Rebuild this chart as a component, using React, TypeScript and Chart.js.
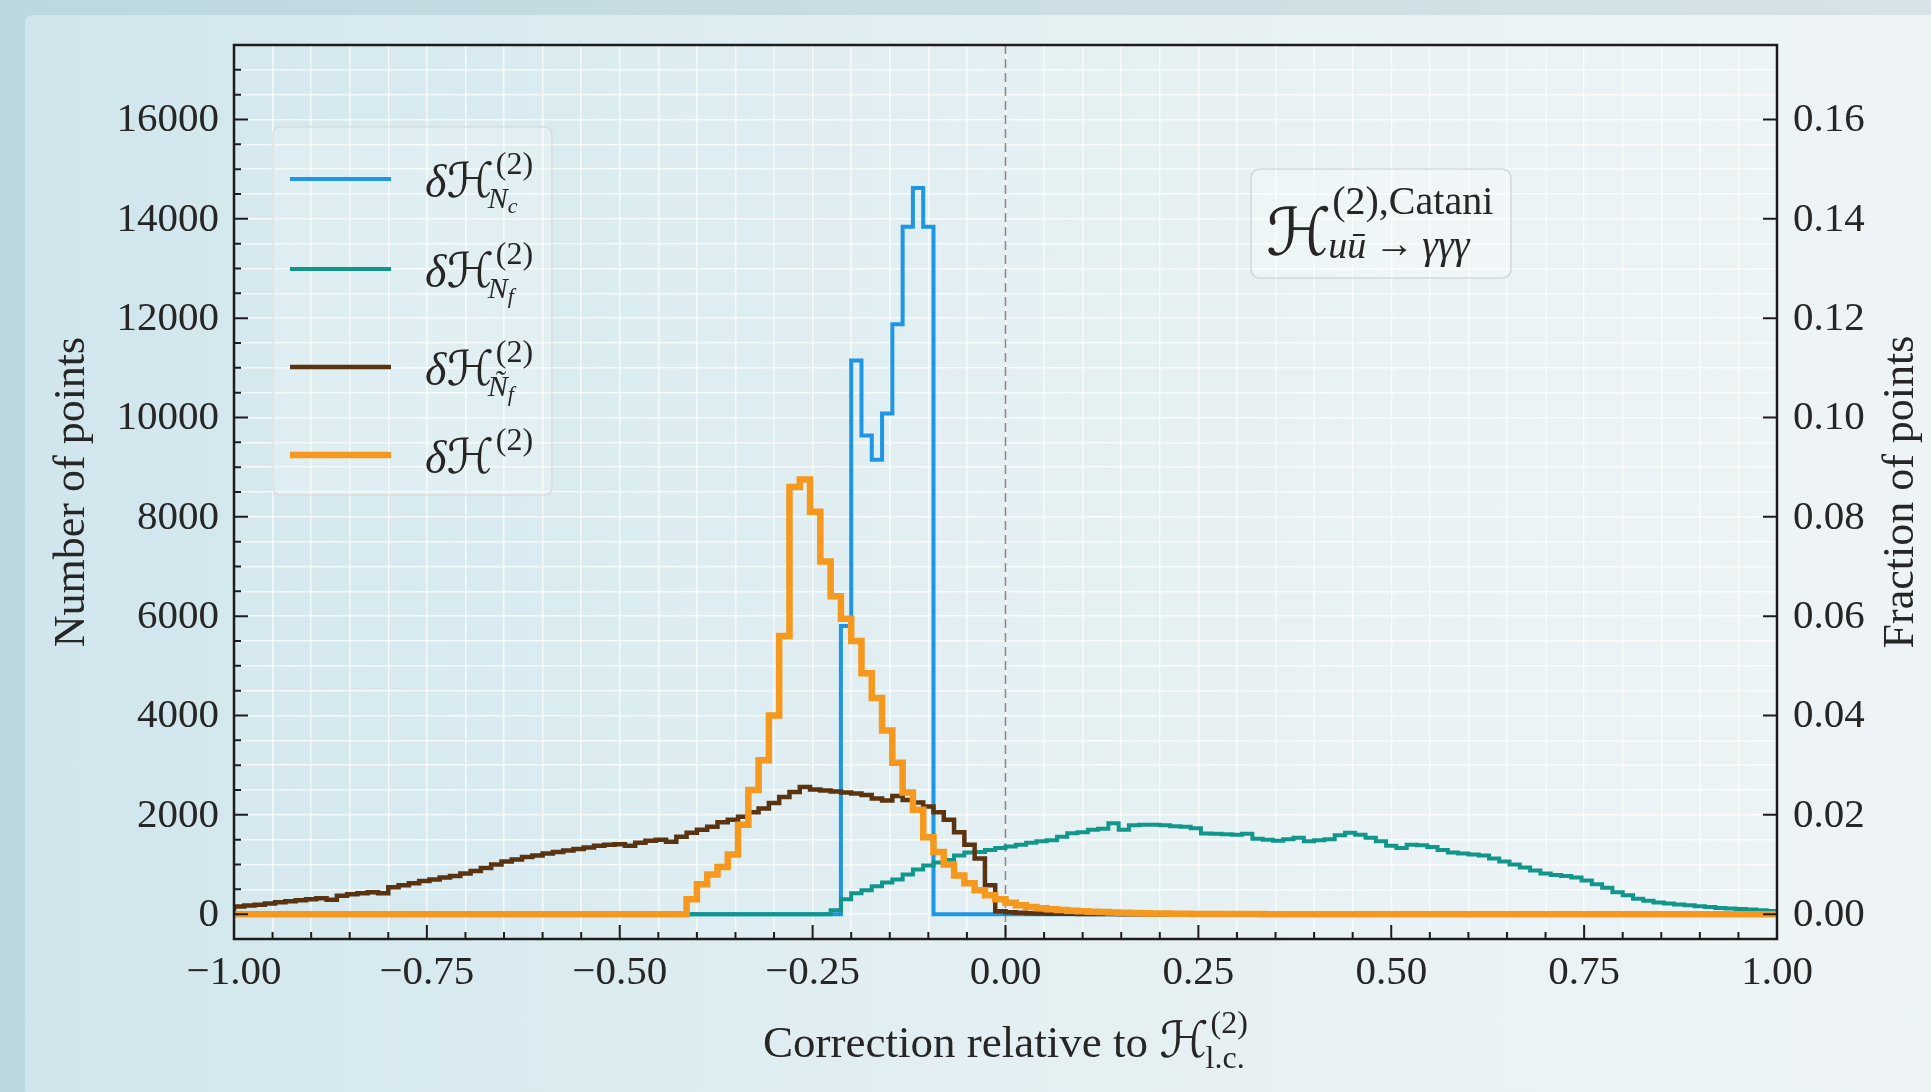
import React, { useEffect, useRef } from "react";
import { Chart, registerables } from "chart.js";

Chart.register(...registerables);

// ---------------- Data ----------------
// Histogram binning: 150 equal bins on [-1, 1]
const BIN_COUNT = 150;
const X_MIN = -1;
const X_MAX = 1;
const TOTAL_POINTS = 100000;

// δH^(2)_{N_c}  (counts per bin, first bin index = ncStart)
const ncStart = 59;
const ncCounts = [5800, 11150, 9640, 9150, 10080, 11880, 13840, 14620, 13840];

// δH^(2)_{N_f}
const nfStart = 58;
const nfCounts = [
  80, 300, 420, 480, 560, 640, 700, 800, 900, 980,
  1040, 1090, 1180, 1240, 1250, 1290, 1330, 1360, 1400, 1440,
  1470, 1490, 1560, 1630, 1650, 1700, 1720, 1830,
  1700, 1790, 1800, 1800, 1790, 1770, 1760, 1730, 1625, 1620, 1610, 1600, 1620,
  1520, 1500, 1480, 1510, 1540, 1470, 1490, 1510, 1590, 1640,
  1600, 1540, 1470, 1380, 1330, 1400, 1390, 1350, 1290, 1240,
  1220, 1200, 1180, 1120, 1060, 1000, 940, 880, 820, 790,
  770, 740, 680, 600, 530, 440, 380, 310, 270, 235,
  215, 195, 180, 160, 145, 125, 115, 105, 95, 80, 65,
];

// δH^(2)_{Ñ_f}
const nftStart = 0;
const nftCounts = [
  155, 175, 190, 215, 240, 260, 280, 300, 320, 290,
  370, 400, 420, 440, 420, 540, 580, 620, 670, 700,
  740, 770, 820, 870, 930, 1000, 1060, 1100, 1150, 1180,
  1220, 1250, 1280, 1310, 1340, 1380, 1400, 1410, 1380, 1440,
  1480, 1500, 1460, 1560, 1640, 1700, 1760,
  1850, 1900, 1960, 2050, 2130, 2240, 2360, 2460, 2560, 2510,
  2490, 2470, 2450, 2430, 2400, 2330, 2290, 2380, 2300, 2250,
  2170, 2050, 1900, 1650, 1400, 1120, 580,
  60, 40, 30, 20, 15, 10, 8, 6, 4, 3, 2, 1,
];

// δH^(2)
const totStart = 44;
const totCounts = [
  300, 600, 800, 950, 1200, 1800, 2500, 3100, 4000, 5600,
  8600, 8750, 8100, 7100, 6400, 5950, 5500, 4850, 4350, 3700,
  3050, 2450, 2100,
  1550, 1250, 1000, 780, 620, 480, 380, 300, 230, 180,
  145, 120, 100, 85, 70, 60, 50, 42, 35, 28, 22, 18, 14, 11, 8, 6, 5, 4, 3, 2, 2, 1, 1,
];

// Axis ticks / limits
const xMajorTicks = [-1, -0.75, -0.5, -0.25, 0, 0.25, 0.5, 0.75, 1];
const yMajorTicks = [0, 2000, 4000, 6000, 8000, 10000, 12000, 14000, 16000];
const fracTicks = [0, 0.02, 0.04, 0.06, 0.08, 0.1, 0.12, 0.14, 0.16];
const yLimits = [-500, 17500];
const refLineX = 0;

// Series styles
const seriesColors = ["#1e96e3", "#10968a", "#5a3311", "#f5981e"];
const seriesWidths = [4, 4, 4.5, 6.5];

// ---------------- Helpers ----------------
const SERIF = '"Liberation Serif", "DejaVu Serif", "DejaVu Sans", serif';
const TEXT_COLOR = "#262626";
const TICK_FONT_SIZE = 41;

function expand(start: number, counts: number[]): number[] {
  const arr = new Array(BIN_COUNT).fill(0);
  counts.forEach((c, i) => {
    arr[start + i] = c;
  });
  return arr;
}

const binEdges: number[] = Array.from(
  { length: BIN_COUNT + 1 },
  (_, i) => X_MIN + (i * (X_MAX - X_MIN)) / BIN_COUNT
);

// outline of a step histogram: each count spans [edge_i, edge_i+1]
function stepPoints(counts: number[]) {
  const pts: { x: number; y: number }[] = [{ x: binEdges[0], y: 0 }];
  counts.forEach((c, i) => pts.push({ x: binEdges[i], y: c }));
  pts.push({ x: binEdges[BIN_COUNT], y: 0 });
  return pts;
}

const near = (list: number[], v: number) => list.some((t) => Math.abs(t - v) < 1e-6);
const fmtSigned = (v: number) => (v < -1e-9 ? "\u2212" : "") + Math.abs(v).toFixed(2);

type Run = { t: string; size: number; italic?: boolean; dy?: number };
function setFont(ctx: CanvasRenderingContext2D, r: Run) {
  ctx.font = `${r.italic ? "italic " : ""}${r.size}px ${SERIF}`;
}
function runsWidth(ctx: CanvasRenderingContext2D, runs: Run[]) {
  let w = 0;
  for (const r of runs) {
    setFont(ctx, r);
    w += ctx.measureText(r.t).width;
  }
  return w;
}
function drawRuns(ctx: CanvasRenderingContext2D, x: number, y: number, runs: Run[]) {
  for (const r of runs) {
    setFont(ctx, r);
    ctx.fillText(r.t, x, y + (r.dy || 0));
    x += ctx.measureText(r.t).width;
  }
  return x;
}
type Scripted = {
  base: Run[];
  sup?: Run[];
  sub?: Run[];
  supDy: number;
  subDy: number;
  supDx?: number;
  subDx?: number;
};
function scriptedWidth(ctx: CanvasRenderingContext2D, s: Scripted) {
  return (
    runsWidth(ctx, s.base) +
    Math.max(
      s.sup ? runsWidth(ctx, s.sup) + (s.supDx || 0) : 0,
      s.sub ? runsWidth(ctx, s.sub) + (s.subDx || 0) : 0
    )
  );
}
function drawScripted(ctx: CanvasRenderingContext2D, x: number, y: number, s: Scripted) {
  const xe = drawRuns(ctx, x, y, s.base);
  let w = 0;
  if (s.sup) w = Math.max(w, drawRuns(ctx, xe + (s.supDx || 0), y + s.supDy, s.sup) - xe);
  if (s.sub) w = Math.max(w, drawRuns(ctx, xe + (s.subDx || 0), y + s.subDy, s.sub) - xe);
  return xe + w;
}

const deltaH: Run[] = [
  { t: "\u03b4", size: 46, italic: true },
  { t: "\u210b", size: 48 },
];
const sup2: Run[] = [{ t: "(2)", size: 32 }];
function subNf(first: string, second: string): Run[] {
  return [
    { t: first, size: 30, italic: true },
    { t: second, size: 22, italic: true, dy: 5 },
  ];
}
const legendEntries: Scripted[] = [
  { base: deltaH, sup: sup2, sub: subNf("N", "c"), supDy: -23, subDy: 11, supDx: 2, subDx: -6 },
  { base: deltaH, sup: sup2, sub: subNf("N", "f"), supDy: -23, subDy: 11, supDx: 2, subDx: -6 },
  { base: deltaH, sup: sup2, sub: subNf("\u00d1", "f"), supDy: -23, subDy: 11, supDx: 2, subDx: -6 },
  { base: deltaH, sup: sup2, supDy: -23, subDy: 0, supDx: 2 },
];

function roundRect(ctx: CanvasRenderingContext2D, x: number, y: number, w: number, h: number, r: number) {
  ctx.beginPath();
  ctx.moveTo(x + r, y);
  ctx.lineTo(x + w - r, y);
  ctx.quadraticCurveTo(x + w, y, x + w, y + r);
  ctx.lineTo(x + w, y + h - r);
  ctx.quadraticCurveTo(x + w, y + h, x + w - r, y + h);
  ctx.lineTo(x + r, y + h);
  ctx.quadraticCurveTo(x, y + h, x, y + h - r);
  ctx.lineTo(x, y + r);
  ctx.quadraticCurveTo(x, y, x + r, y);
  ctx.closePath();
}

const decorPlugin = {
  id: "decor",
  beforeDatasetsDraw(chart: any) {
    const { ctx, chartArea: a } = chart;
    const px = chart.scales.x.getPixelForValue(refLineX);
    ctx.save();
    ctx.strokeStyle = "#8a8a8a";
    ctx.lineWidth = 1.6;
    ctx.setLineDash([9, 5]);
    ctx.beginPath();
    ctx.moveTo(px, a.top);
    ctx.lineTo(px, a.bottom);
    ctx.stroke();
    ctx.restore();
  },
  afterDraw(chart: any) {
    const { ctx, chartArea: a, scales } = chart;
    ctx.save();

    // inward ticks
    ctx.strokeStyle = "#1c1c1c";
    ctx.lineWidth = 2;
    ctx.beginPath();
    for (const t of scales.x.ticks) {
      const p = scales.x.getPixelForValue(t.value);
      const len = near(xMajorTicks, t.value) ? 14 : 7;
      ctx.moveTo(p, a.bottom);
      ctx.lineTo(p, a.bottom - len);
    }
    for (const t of scales.y.ticks) {
      const p = scales.y.getPixelForValue(t.value);
      const len = near(yMajorTicks, t.value) ? 14 : 7;
      ctx.moveTo(a.left, p);
      ctx.lineTo(a.left + len, p);
    }
    for (const v of fracTicks) {
      const p = scales.y1.getPixelForValue(v);
      ctx.moveTo(a.right, p);
      ctx.lineTo(a.right - 14, p);
    }
    ctx.stroke();

    // frame
    ctx.lineWidth = 2.5;
    ctx.strokeRect(a.left, a.top, a.right - a.left, a.bottom - a.top);

    // tick labels of both vertical axes
    ctx.fillStyle = TEXT_COLOR;
    ctx.font = `${TICK_FONT_SIZE}px ${SERIF}`;
    ctx.textBaseline = "middle";
    ctx.textAlign = "right";
    for (const v of yMajorTicks) {
      ctx.fillText(String(v), a.left - 15, scales.y.getPixelForValue(v) + 1);
    }
    ctx.textAlign = "left";
    for (const v of fracTicks) {
      ctx.fillText(v.toFixed(2), a.right + 16, scales.y1.getPixelForValue(v) + 1);
    }

    // legend
    const lx = a.left + 39;
    const ly = a.top + 82;
    roundRect(ctx, lx, ly, 279, 368, 8);
    ctx.fillStyle = "rgba(255,255,255,0.22)";
    ctx.fill();
    ctx.strokeStyle = "rgba(215,220,222,0.9)";
    ctx.lineWidth = 1.5;
    ctx.stroke();
    const rows = [52, 142, 240, 328];
    ctx.textBaseline = "alphabetic";
    ctx.textAlign = "left";
    legendEntries.forEach((e, i) => {
      const yy = ly + rows[i];
      ctx.strokeStyle = seriesColors[i];
      ctx.lineWidth = seriesWidths[i];
      ctx.beginPath();
      ctx.moveTo(lx + 17, yy);
      ctx.lineTo(lx + 118, yy);
      ctx.stroke();
      ctx.fillStyle = TEXT_COLOR;
      drawScripted(ctx, lx + 152, yy + 18, e);
    });

    // annotation box
    const bx = a.left + 1017;
    const by = a.top + 124;
    roundRect(ctx, bx, by, 260, 109, 10);
    ctx.fillStyle = "rgba(255,255,255,0.28)";
    ctx.fill();
    ctx.strokeStyle = "rgba(208,214,218,0.95)";
    ctx.lineWidth = 1.5;
    ctx.stroke();
    ctx.fillStyle = TEXT_COLOR;
    drawScripted(ctx, bx + 15, by + 86, {
      base: [{ t: "\u210b", size: 66 }],
      sup: [{ t: "(2),Catani", size: 40 }],
      sub: [
        { t: "u\u016b", size: 38, italic: true },
        { t: "\u2009\u2192\u2009", size: 40, dy: -1 },
        { t: "\u03b3\u03b3\u03b3", size: 40, italic: true },
      ],
      supDy: -41,
      subDy: 3,
      supDx: 1,
      subDx: -3,
    });

    // x-axis title
    const xt: Run[] = [{ t: "Correction relative to ", size: 45 }];
    const xs: Scripted = {
      base: [{ t: "\u210b", size: 50 }],
      sup: [{ t: "(2)", size: 32 }],
      sub: [{ t: "l.c.", size: 32 }],
      supDy: -24,
      subDy: 11,
      supDx: 2,
      subDx: -3,
    };
    const totalW = runsWidth(ctx, xt) + scriptedWidth(ctx, xs);
    let tx = (a.left + a.right) / 2 - totalW / 2;
    tx = drawRuns(ctx, tx, 1057, xt);
    drawScripted(ctx, tx, 1057, xs);

    // y-axis titles (both read bottom-to-top)
    ctx.font = `44px ${SERIF}`;
    ctx.textAlign = "center";
    ctx.textBaseline = "middle";
    const midY = (a.top + a.bottom) / 2;
    ctx.save();
    ctx.translate(72, midY);
    ctx.rotate(-Math.PI / 2);
    ctx.fillText("Number of points", 0, 0);
    ctx.restore();
    ctx.save();
    ctx.translate(1901, midY);
    ctx.rotate(-Math.PI / 2);
    ctx.fillText("Fraction of points", 0, 0);
    ctx.restore();

    ctx.restore();
  },
};

const seriesLabels = [
  "\u03b4\u210b(2) N_c",
  "\u03b4\u210b(2) N_f",
  "\u03b4\u210b(2) \u00d1_f",
  "\u03b4\u210b(2)",
];

export default function App() {
  const canvasRef = useRef<HTMLCanvasElement | null>(null);

  useEffect(() => {
    const canvas = canvasRef.current;
    if (!canvas) return;
    const allCounts = [
      expand(ncStart, ncCounts),
      expand(nfStart, nfCounts),
      expand(nftStart, nftCounts),
      expand(totStart, totCounts),
    ];
    const gridColor = "rgba(255,255,255,0.72)";
    const tickFont = { family: SERIF, size: TICK_FONT_SIZE, lineHeight: 1.2 };
    const chart = new Chart(canvas, {
      type: "line",
      data: {
        datasets: allCounts.map((counts, i) => ({
          label: seriesLabels[i],
          data: stepPoints(counts),
          borderColor: seriesColors[i],
          backgroundColor: seriesColors[i],
          borderWidth: seriesWidths[i],
          stepped: "before" as const,
          fill: false,
          pointRadius: 0,
          tension: 0,
          borderJoinStyle: "miter" as const,
          order: 4 - i,
          yAxisID: "y",
        })),
      },
      options: {
        animation: false,
        responsive: false,
        maintainAspectRatio: false,
        devicePixelRatio: 1,
        layout: { padding: { top: 45, left: 0, right: 0, bottom: 0 } },
        plugins: {
          legend: { display: false },
          tooltip: { enabled: false },
        },
        scales: {
          x: {
            type: "linear",
            min: X_MIN,
            max: X_MAX,
            border: { display: false },
            grid: { color: gridColor, lineWidth: 1.5, drawTicks: false },
            ticks: {
              stepSize: 0.05,
              autoSkip: false,
              maxRotation: 0,
              minRotation: 0,
              padding: 10,
              color: TEXT_COLOR,
              font: tickFont,
              callback: (v: any) => (near(xMajorTicks, Number(v)) ? fmtSigned(Number(v)) : ""),
            },
            afterFit: (s: any) => {
              s.height = 153;
            },
          },
          y: {
            type: "linear",
            position: "left",
            min: yLimits[0],
            max: yLimits[1],
            border: { display: false },
            grid: { color: gridColor, lineWidth: 1.5, drawTicks: false },
            ticks: {
              display: false,
              stepSize: 500,
              includeBounds: false,
              autoSkip: false,
            },
            afterFit: (s: any) => {
              s.width = 234;
            },
          },
          y1: {
            type: "linear",
            position: "right",
            min: yLimits[0] / TOTAL_POINTS,
            max: yLimits[1] / TOTAL_POINTS,
            border: { display: false },
            grid: { display: false, drawTicks: false },
            ticks: {
              display: false,
              stepSize: 0.02,
              includeBounds: false,
              autoSkip: false,
            },
            afterFit: (s: any) => {
              s.width = 154;
            },
          },
        },
      },
      plugins: [decorPlugin],
    });
    return () => chart.destroy();
  }, []);

  return (
    <div
      style={{
        position: "fixed",
        left: 0,
        top: 0,
        width: 1931,
        height: 1092,
        overflow: "hidden",
        background: "linear-gradient(90deg, #bcd7df 0%, #cadde3 50%, #d6e3e7 100%)",
      }}
    >
      <div
        style={{
          position: "absolute",
          left: 25,
          top: 15,
          right: 0,
          bottom: 0,
          borderTopLeftRadius: 8,
          background:
            "linear-gradient(90deg, #d0e6ec 0%, #d9ebf0 25%, #e3eff2 50%, #eaf2f5 75%, #eef4f6 100%)",
        }}
      />
      <canvas
        ref={canvasRef}
        width={1931}
        height={1092}
        style={{ position: "absolute", left: 0, top: 0, width: 1931, height: 1092 }}
      />
    </div>
  );
}
